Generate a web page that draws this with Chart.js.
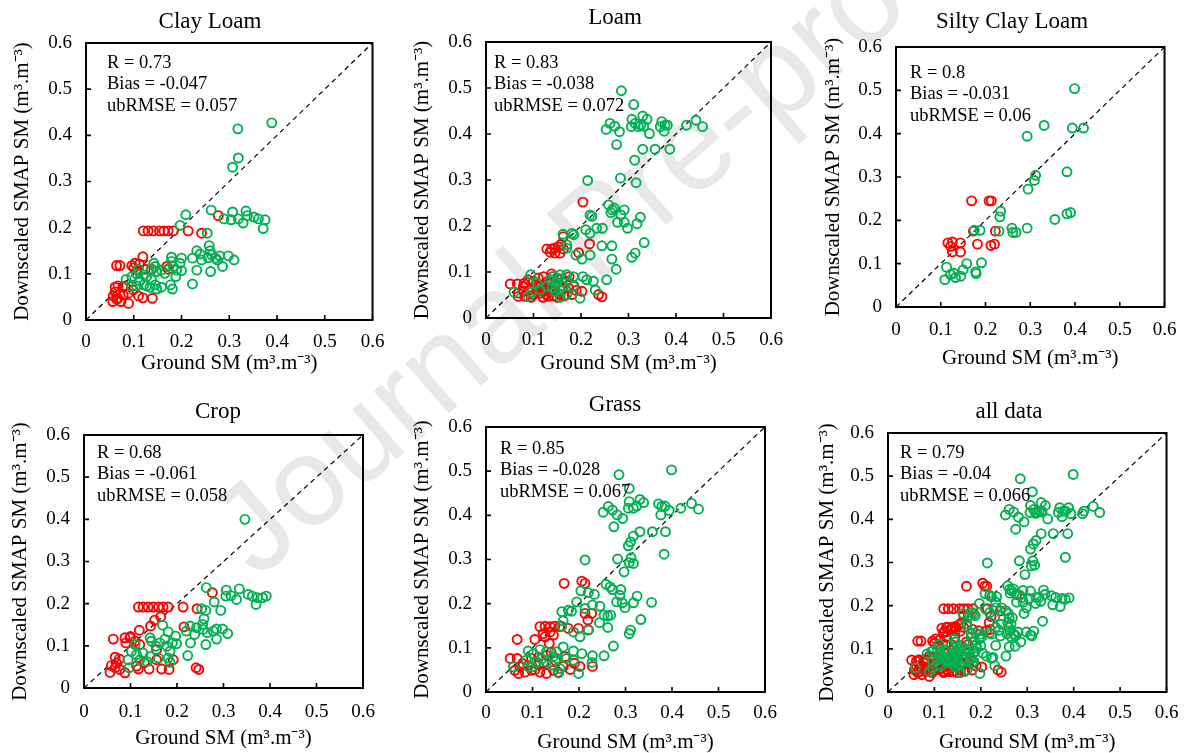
<!DOCTYPE html>
<html>
<head>
<meta charset="utf-8">
<script src="https://cdn.jsdelivr.net/npm/chart.js@4.4.1/dist/chart.umd.min.js"></script>
<style>
  html, body { margin: 0; padding: 0; background: #fff; }
  body { width: 1188px; height: 753px; position: relative; overflow: hidden; }
  .wm { position: absolute; left: 188px; top: 500px; font-family: "Liberation Sans", Arial, sans-serif;
        font-size: 126px; line-height: 1; color: #e8e8e8; white-space: nowrap;
        transform-origin: 0 0; transform: rotate(-41deg); }
  canvas { position: absolute; }
</style>
</head>
<body>
<div class="wm">Journal Pre-proof</div>
<canvas id="c1"></canvas>
<canvas id="c2"></canvas>
<canvas id="c3"></canvas>
<canvas id="c4"></canvas>
<canvas id="c5"></canvas>
<canvas id="c6"></canvas>
<script>
// ---------------- DATA ----------------
const AXIS_TICKS = [0, 0.1, 0.2, 0.3, 0.4, 0.5, 0.6];
const AXIS_TICK_LABELS = ['0', '0.1', '0.2', '0.3', '0.4', '0.5', '0.6'];
const ONE_TO_ONE = [[0, 0], [0.6, 0.6]];

const TITLES = ['Clay Loam', 'Loam', 'Silty Clay Loam', 'Crop', 'Grass', 'all data'];
const X_TITLE = 'Ground SM (m³.m⁻³)';
const Y_TITLE = 'Downscaled SMAP SM (m³.m⁻³)';

const STATS_CLAY_LOAM = ['R = 0.73', 'Bias = -0.047', 'ubRMSE = 0.057'];
const STATS_LOAM = ['R = 0.83', 'Bias = -0.038', 'ubRMSE = 0.072'];
const STATS_SILTY_CLAY_LOAM = ['R = 0.8', 'Bias = -0.031', 'ubRMSE = 0.06'];
const STATS_CROP = ['R = 0.68', 'Bias = -0.061', 'ubRMSE = 0.058'];
const STATS_GRASS = ['R = 0.85', 'Bias = -0.028', 'ubRMSE = 0.067'];
const STATS_ALL = ['R = 0.79', 'Bias = -0.04', 'ubRMSE = 0.066'];

// [ground SM, downscaled SMAP SM]
const clayLoamRed = [
  [0.120,0.193],[0.130,0.193],[0.141,0.193],[0.154,0.193],[0.163,0.193],[0.172,0.193],[0.183,0.193],
  [0.214,0.193],[0.242,0.188],[0.277,0.226],
  [0.064,0.118],[0.071,0.118],[0.096,0.118],[0.103,0.123],[0.112,0.121],[0.119,0.137],[0.124,0.110],
  [0.108,0.108],[0.137,0.110],[0.169,0.116],[0.172,0.110],[0.100,0.113],
  [0.061,0.071],[0.067,0.074],[0.077,0.071],[0.061,0.061],[0.057,0.052],[0.056,0.040],[0.067,0.047],
  [0.078,0.054],[0.073,0.040],[0.089,0.036],[0.089,0.058],[0.099,0.065],[0.110,0.052],[0.119,0.048],
  [0.139,0.047],[0.082,0.074],[0.064,0.045]
];
const clayLoamGreen = [
  [0.389,0.427],[0.318,0.414],[0.319,0.351],[0.307,0.331],
  [0.262,0.238],[0.289,0.219],[0.307,0.234],[0.304,0.217],[0.319,0.219],[0.329,0.210],[0.335,0.236],
  [0.338,0.226],[0.352,0.223],[0.361,0.219],[0.375,0.217],[0.371,0.198],[0.209,0.228],[0.197,0.205],
  [0.254,0.188],[0.258,0.161],[0.232,0.150],[0.239,0.143],[0.223,0.134],[0.242,0.130],[0.260,0.150],
  [0.263,0.141],[0.256,0.135],[0.271,0.134],[0.280,0.139],[0.275,0.130],[0.298,0.139],[0.310,0.130],
  [0.286,0.116],[0.261,0.105],[0.232,0.108],[0.223,0.078],[0.200,0.134],[0.197,0.123],[0.179,0.136],
  [0.179,0.127],[0.183,0.116],[0.190,0.108],[0.200,0.107],[0.188,0.094],[0.177,0.076],[0.181,0.067],
  [0.158,0.108],[0.165,0.101],[0.148,0.105],[0.142,0.123],[0.145,0.116],[0.137,0.108],[0.127,0.094],
  [0.137,0.087],[0.145,0.076],[0.158,0.071],[0.134,0.071],[0.121,0.076],[0.113,0.085],[0.120,0.098],
  [0.110,0.110],[0.106,0.100],[0.096,0.094],[0.084,0.088],[0.096,0.072],[0.106,0.074],[0.127,0.074],
  [0.148,0.067]
];

const loamRed = [
  [0.204,0.252],[0.218,0.161],[0.128,0.150],[0.138,0.150],[0.145,0.141],[0.152,0.155],[0.145,0.152],
  [0.163,0.150],[0.156,0.141],[0.195,0.142],[0.163,0.177],[0.135,0.143],[0.158,0.160],
  [0.051,0.074],[0.066,0.074],[0.079,0.069],[0.089,0.083],[0.100,0.080],[0.110,0.087],[0.121,0.090],
  [0.138,0.096],[0.149,0.087],[0.068,0.054],[0.068,0.047],[0.082,0.047],[0.100,0.051],[0.114,0.054],
  [0.128,0.051],[0.142,0.048],[0.156,0.051],[0.181,0.051],[0.202,0.058],[0.121,0.058],[0.135,0.061],
  [0.174,0.065],[0.237,0.051],[0.244,0.046],[0.131,0.047],[0.079,0.058],[0.107,0.067],
  [0.090,0.060],[0.105,0.072],[0.115,0.068],[0.125,0.062],[0.135,0.075],[0.145,0.070],[0.160,0.062],
  [0.170,0.080],[0.185,0.070],[0.095,0.045],[0.120,0.045],[0.150,0.045],[0.165,0.048],[0.190,0.060],
  [0.140,0.090],[0.080,0.075],[0.130,0.080],[0.175,0.090],[0.160,0.085],[0.112,0.060]
];
const loamGreen = [
  [0.285,0.494],[0.311,0.464],[0.307,0.432],[0.306,0.416],[0.314,0.423],[0.321,0.416],[0.330,0.439],
  [0.339,0.432],[0.326,0.419],[0.332,0.417],[0.253,0.410],[0.261,0.423],[0.271,0.417],[0.281,0.405],
  [0.275,0.377],[0.344,0.401],[0.370,0.427],[0.377,0.419],[0.382,0.419],[0.367,0.416],[0.375,0.406],
  [0.422,0.419],[0.442,0.430],[0.456,0.416],[0.330,0.367],[0.356,0.367],[0.387,0.367],[0.313,0.343],
  [0.214,0.299],[0.283,0.304],[0.316,0.294],[0.258,0.246],[0.266,0.235],[0.270,0.239],[0.291,0.235],
  [0.263,0.229],[0.325,0.219],[0.284,0.224],[0.277,0.208],[0.291,0.208],[0.298,0.195],[0.318,0.205],
  [0.219,0.224],[0.223,0.221],[0.210,0.192],[0.219,0.184],[0.233,0.195],[0.245,0.195],[0.181,0.184],
  [0.162,0.182],[0.185,0.181],[0.170,0.159],[0.170,0.152],[0.189,0.137],[0.202,0.128],[0.219,0.137],
  [0.244,0.157],[0.265,0.157],[0.265,0.128],[0.274,0.106],[0.307,0.132],[0.314,0.141],[0.333,0.164],
  [0.254,0.083],[0.226,0.080],[0.230,0.061],[0.204,0.090],[0.212,0.083],[0.198,0.043],[0.184,0.090],
  [0.170,0.094],[0.156,0.094],[0.142,0.090],[0.135,0.083],[0.149,0.076],[0.163,0.069],[0.184,0.069],
  [0.128,0.069],[0.107,0.076],[0.094,0.094],[0.096,0.056],[0.089,0.047],[0.059,0.056],[0.156,0.045],
  [0.145,0.058],[0.170,0.051],[0.114,0.061],[0.150,0.085],[0.160,0.078],[0.140,0.065],[0.155,0.062]
];

const siltyClayLoamRed = [
  [0.169,0.245],[0.208,0.245],[0.213,0.245],[0.222,0.175],[0.173,0.175],[0.182,0.145],[0.212,0.142],
  [0.220,0.145],[0.116,0.148],[0.126,0.150],[0.144,0.148],[0.126,0.127],[0.144,0.127],[0.122,0.140]
];
const siltyClayLoamGreen = [
  [0.399,0.504],[0.331,0.419],[0.394,0.413],[0.419,0.413],[0.293,0.394],[0.382,0.312],[0.312,0.304],
  [0.309,0.292],[0.295,0.272],[0.234,0.221],[0.232,0.208],[0.355,0.202],[0.382,0.215],[0.390,0.218],
  [0.293,0.182],[0.259,0.182],[0.261,0.172],[0.268,0.172],[0.230,0.175],[0.188,0.177],[0.175,0.177],
  [0.191,0.102],[0.178,0.081],[0.179,0.077],[0.158,0.100],[0.150,0.086],[0.145,0.071],[0.113,0.092],
  [0.109,0.063],[0.122,0.075],[0.129,0.078],[0.133,0.068]
];

const cropRed = [
  [0.117,0.192],[0.127,0.192],[0.138,0.192],[0.149,0.192],[0.160,0.192],[0.170,0.192],[0.181,0.192],
  [0.213,0.192],[0.243,0.188],[0.276,0.226],[0.215,0.145],[0.165,0.169],[0.152,0.161],[0.143,0.147],
  [0.119,0.137],[0.063,0.116],[0.088,0.119],[0.099,0.119],[0.110,0.111],[0.090,0.107],[0.120,0.103],
  [0.067,0.073],[0.076,0.069],[0.059,0.053],[0.067,0.048],[0.056,0.037],[0.077,0.044],[0.088,0.036],
  [0.070,0.059],[0.113,0.052],[0.117,0.045],[0.140,0.045],[0.156,0.067],[0.167,0.045],[0.183,0.044],
  [0.192,0.067],[0.241,0.048],[0.247,0.044],[0.156,0.091],[0.100,0.122],[0.130,0.060]
];
const cropGreen = [
  [0.346,0.400],[0.263,0.238],[0.306,0.232],[0.316,0.219],[0.305,0.218],[0.334,0.235],[0.328,0.210],
  [0.353,0.222],[0.362,0.218],[0.373,0.214],[0.384,0.214],[0.392,0.218],[0.370,0.198],[0.280,0.204],
  [0.294,0.184],[0.253,0.188],[0.262,0.184],[0.258,0.164],[0.255,0.151],[0.228,0.147],[0.242,0.143],
  [0.220,0.135],[0.238,0.127],[0.256,0.139],[0.265,0.131],[0.278,0.135],[0.285,0.140],[0.298,0.140],
  [0.309,0.129],[0.285,0.116],[0.262,0.103],[0.229,0.107],[0.223,0.077],[0.169,0.149],[0.181,0.133],
  [0.197,0.123],[0.190,0.107],[0.199,0.105],[0.174,0.116],[0.163,0.107],[0.155,0.099],[0.142,0.119],
  [0.145,0.111],[0.178,0.099],[0.185,0.087],[0.181,0.071],[0.185,0.061],[0.160,0.071],[0.142,0.075],
  [0.127,0.083],[0.120,0.067],[0.113,0.079],[0.110,0.103],[0.102,0.087],[0.095,0.067],[0.097,0.048],
  [0.135,0.063]
];

const grassRed = [
  [0.168,0.246],[0.206,0.251],[0.213,0.246],[0.213,0.178],[0.227,0.178],[0.219,0.163],[0.220,0.141],
  [0.199,0.144],[0.177,0.144],[0.116,0.148],[0.127,0.149],[0.138,0.148],[0.148,0.149],[0.159,0.148],
  [0.123,0.132],[0.138,0.136],[0.145,0.129],[0.127,0.125],[0.067,0.119],[0.105,0.119],[0.136,0.110],
  [0.052,0.076],[0.067,0.076],[0.080,0.064],[0.098,0.076],[0.113,0.079],[0.130,0.083],[0.062,0.049],
  [0.070,0.042],[0.084,0.045],[0.098,0.049],[0.116,0.045],[0.130,0.042],[0.145,0.049],[0.166,0.058],
  [0.181,0.051],[0.202,0.058],[0.229,0.058],[0.073,0.057],[0.113,0.061],[0.090,0.060],[0.125,0.065],
  [0.150,0.070],[0.170,0.080],[0.140,0.090],[0.105,0.050],[0.155,0.045],[0.190,0.065]
];
const grassGreen = [
  [0.286,0.492],[0.399,0.503],[0.308,0.461],[0.308,0.431],[0.306,0.416],[0.317,0.416],[0.331,0.436],
  [0.339,0.429],[0.324,0.421],[0.252,0.407],[0.263,0.420],[0.272,0.412],[0.282,0.401],[0.294,0.393],
  [0.275,0.374],[0.371,0.426],[0.378,0.420],[0.385,0.421],[0.376,0.401],[0.394,0.411],[0.419,0.416],
  [0.442,0.427],[0.457,0.414],[0.331,0.363],[0.358,0.363],[0.386,0.363],[0.383,0.312],[0.317,0.353],
  [0.311,0.340],[0.306,0.331],[0.213,0.299],[0.283,0.301],[0.312,0.304],[0.308,0.293],[0.317,0.291],
  [0.297,0.272],[0.258,0.244],[0.267,0.238],[0.272,0.232],[0.290,0.232],[0.204,0.229],[0.220,0.225],
  [0.233,0.221],[0.288,0.219],[0.325,0.217],[0.356,0.203],[0.281,0.204],[0.293,0.202],[0.317,0.202],
  [0.299,0.191],[0.195,0.204],[0.213,0.189],[0.229,0.197],[0.245,0.194],[0.163,0.182],[0.177,0.185],
  [0.184,0.183],[0.163,0.149],[0.166,0.161],[0.254,0.174],[0.262,0.172],[0.268,0.174],[0.262,0.146],
  [0.244,0.157],[0.188,0.136],[0.202,0.125],[0.220,0.140],[0.274,0.104],[0.333,0.164],[0.311,0.140],
  [0.308,0.132],[0.254,0.082],[0.229,0.082],[0.228,0.067],[0.199,0.042],[0.206,0.087],[0.188,0.093],
  [0.166,0.102],[0.152,0.091],[0.130,0.091],[0.116,0.096],[0.102,0.087],[0.091,0.093],[0.087,0.072],
  [0.109,0.068],[0.130,0.068],[0.152,0.076],[0.173,0.076],[0.188,0.072],[0.141,0.061],[0.159,0.053],
  [0.156,0.043],[0.059,0.057],[0.091,0.058],[0.100,0.057],[0.145,0.080],[0.120,0.075]
];

// "all data" is the union of the three soil texture classes
const allRed = clayLoamRed.concat(loamRed, siltyClayLoamRed);
const allGreen = clayLoamGreen.concat(loamGreen, siltyClayLoamGreen);

// ---------------- LAYOUT (positions / styles only) ----------------
const LAYOUT = [
  { id: 'c1', left: 0,   top: 0,   w: 395, h: 375, yW: 86, xH: 55, padTop: 43, padRight: 22, titleX: 210, titleY: 22, yTitleX: 22, xTitleOff: 12, xTickPad: 10.6, statX: 21, statY: 20 },
  { id: 'c2', left: 400, top: 0,   w: 395, h: 375, yW: 86, xH: 57, padTop: 42, padRight: 24, titleX: 215, titleY: 18, yTitleX: 22, xTitleOff: 12, xTickPad: 10.6, statX: 8,  statY: 21 },
  { id: 'c3', left: 800, top: 0,   w: 388, h: 375, yW: 96, xH: 68, padTop: 47, padRight: 18, titleX: 212, titleY: 22, yTitleX: 33, xTitleOff: 17, xTickPad: 11.6, statX: 14, statY: 26 },
  { id: 'c4', left: 0,   top: 380, w: 395, h: 373, yW: 84, xH: 65, padTop: 55, padRight: 32, titleX: 218, titleY: 32, yTitleX: 20, xTitleOff: 15, xTickPad: 12.6, statX: 13, statY: 18 },
  { id: 'c5', left: 400, top: 380, w: 395, h: 373, yW: 86, xH: 61, padTop: 47, padRight: 30, titleX: 215, titleY: 25, yTitleX: 22, xTitleOff: 11, xTickPad: 9.6,  statX: 14, statY: 22 },
  { id: 'c6', left: 800, top: 380, w: 388, h: 373, yW: 88, xH: 61, padTop: 53, padRight: 19, titleX: 209, titleY: 32, yTitleX: 27, xTitleOff: 11, xTickPad: 9.6,  statX: 12, statY: 20 }
];

const PANEL_DATA = [
  { red: clayLoamRed, green: clayLoamGreen, stats: STATS_CLAY_LOAM },
  { red: loamRed, green: loamGreen, stats: STATS_LOAM },
  { red: siltyClayLoamRed, green: siltyClayLoamGreen, stats: STATS_SILTY_CLAY_LOAM },
  { red: cropRed, green: cropGreen, stats: STATS_CROP },
  { red: grassRed, green: grassGreen, stats: STATS_GRASS },
  { red: allRed, green: allGreen, stats: STATS_ALL }
];

const SERIF = '"Liberation Serif", "Times New Roman", serif';
const RED = '#ff0000';
const GREEN = '#00b050';

// Box frame + inward tick marks + title + stats text
const panelPlugin = {
  id: 'panelDeco',
  afterDatasetsDraw(chart, args, opts) {
    const ctx = chart.ctx;
    const a = chart.chartArea;
    const xs = chart.scales.x, ys = chart.scales.y;
    ctx.save();
    ctx.strokeStyle = '#000';
    ctx.lineWidth = 2;
    ctx.strokeRect(a.left, a.top, a.right - a.left, a.bottom - a.top);
    ctx.lineWidth = 1.6;
    ctx.beginPath();
    AXIS_TICKS.forEach(v => {
      const px = xs.getPixelForValue(v);
      ctx.moveTo(px, a.bottom); ctx.lineTo(px, a.bottom - 5);
      const py = ys.getPixelForValue(v);
      ctx.moveTo(a.left, py); ctx.lineTo(a.left + 5, py);
    });
    ctx.stroke();
    ctx.fillStyle = '#000';
    ctx.textBaseline = 'middle';
    ctx.textAlign = 'center';
    ctx.font = '23px ' + SERIF;
    ctx.fillText(opts.title, opts.titleX, opts.titleY);
    ctx.textAlign = 'left';
    ctx.font = '18.5px ' + SERIF;
    opts.stats.forEach((s, i) => {
      ctx.fillText(s, a.left + opts.statX, a.top + opts.statY + i * 21.5);
    });
    ctx.restore();
  }
};

LAYOUT.forEach((L, i) => {
  const D = PANEL_DATA[i];
  const cv = document.getElementById(L.id);
  cv.width = L.w; cv.height = L.h;
  cv.style.left = L.left + 'px'; cv.style.top = L.top + 'px';
  cv.style.width = L.w + 'px'; cv.style.height = L.h + 'px';
  const toPts = arr => arr.map(p => ({ x: p[0], y: p[1] }));
  new Chart(cv, {
    type: 'scatter',
    data: {
      datasets: [
        { label: 'green', data: toPts(D.green), order: 0, showLine: false,
          pointStyle: 'circle', pointRadius: 4.5, pointBorderWidth: 1.9,
          pointBackgroundColor: 'rgba(0,0,0,0)', pointBorderColor: GREEN, borderColor: GREEN },
        { label: 'red', data: toPts(D.red), order: 1, showLine: false,
          pointStyle: 'circle', pointRadius: 4.5, pointBorderWidth: 1.9,
          pointBackgroundColor: 'rgba(0,0,0,0)', pointBorderColor: RED, borderColor: RED },
        { label: '1:1', data: toPts(ONE_TO_ONE), order: 2, showLine: true, pointRadius: 0,
          borderColor: '#000', borderWidth: 1.2, borderDash: [5, 4], fill: false }
      ]
    },
    options: {
      responsive: false,
      animation: false,
      devicePixelRatio: 1,
      layout: { padding: { top: L.padTop, right: L.padRight, left: 0, bottom: 0 } },
      plugins: {
        legend: { display: false },
        tooltip: { enabled: false },
        panelDeco: { title: TITLES[i], titleX: L.titleX, titleY: L.titleY, stats: D.stats, statX: L.statX, statY: L.statY }
      },
      scales: {
        x: {
          type: 'linear', position: 'bottom', min: 0, max: 0.6,
          afterBuildTicks: s => { s.ticks = AXIS_TICKS.map(v => ({ value: v })); },
          afterFit: s => { s.height = L.xH; },
          grid: { display: false, drawTicks: false }, border: { display: false },
          ticks: { color: '#000', padding: L.xTickPad, maxRotation: 0, autoSkip: false,
                   font: { family: SERIF, size: 19 },
                   callback: (v, idx) => AXIS_TICK_LABELS[idx] },
          title: { display: true, text: X_TITLE, color: '#000',
                   font: { family: SERIF, size: 21, lineHeight: 1 },
                   padding: { top: 0, bottom: Math.max(0, L.xTitleOff - 10.5) } }
        },
        y: {
          type: 'linear', position: 'left', min: 0, max: 0.6,
          afterBuildTicks: s => { s.ticks = AXIS_TICKS.map(v => ({ value: v })); },
          afterFit: s => { s.width = L.yW; },
          grid: { display: false, drawTicks: false }, border: { display: false },
          ticks: { color: '#000', padding: 14, autoSkip: false,
                   font: { family: SERIF, size: 19 },
                   callback: (v, idx) => AXIS_TICK_LABELS[idx] },
          title: { display: true, text: Y_TITLE, color: '#000',
                   font: { family: SERIF, size: 21, lineHeight: 1 },
                   padding: { top: Math.max(0, L.yTitleX - 10.5), bottom: 0 } }
        }
      }
    },
    plugins: [panelPlugin]
  });
});
</script>
</body>
</html>
